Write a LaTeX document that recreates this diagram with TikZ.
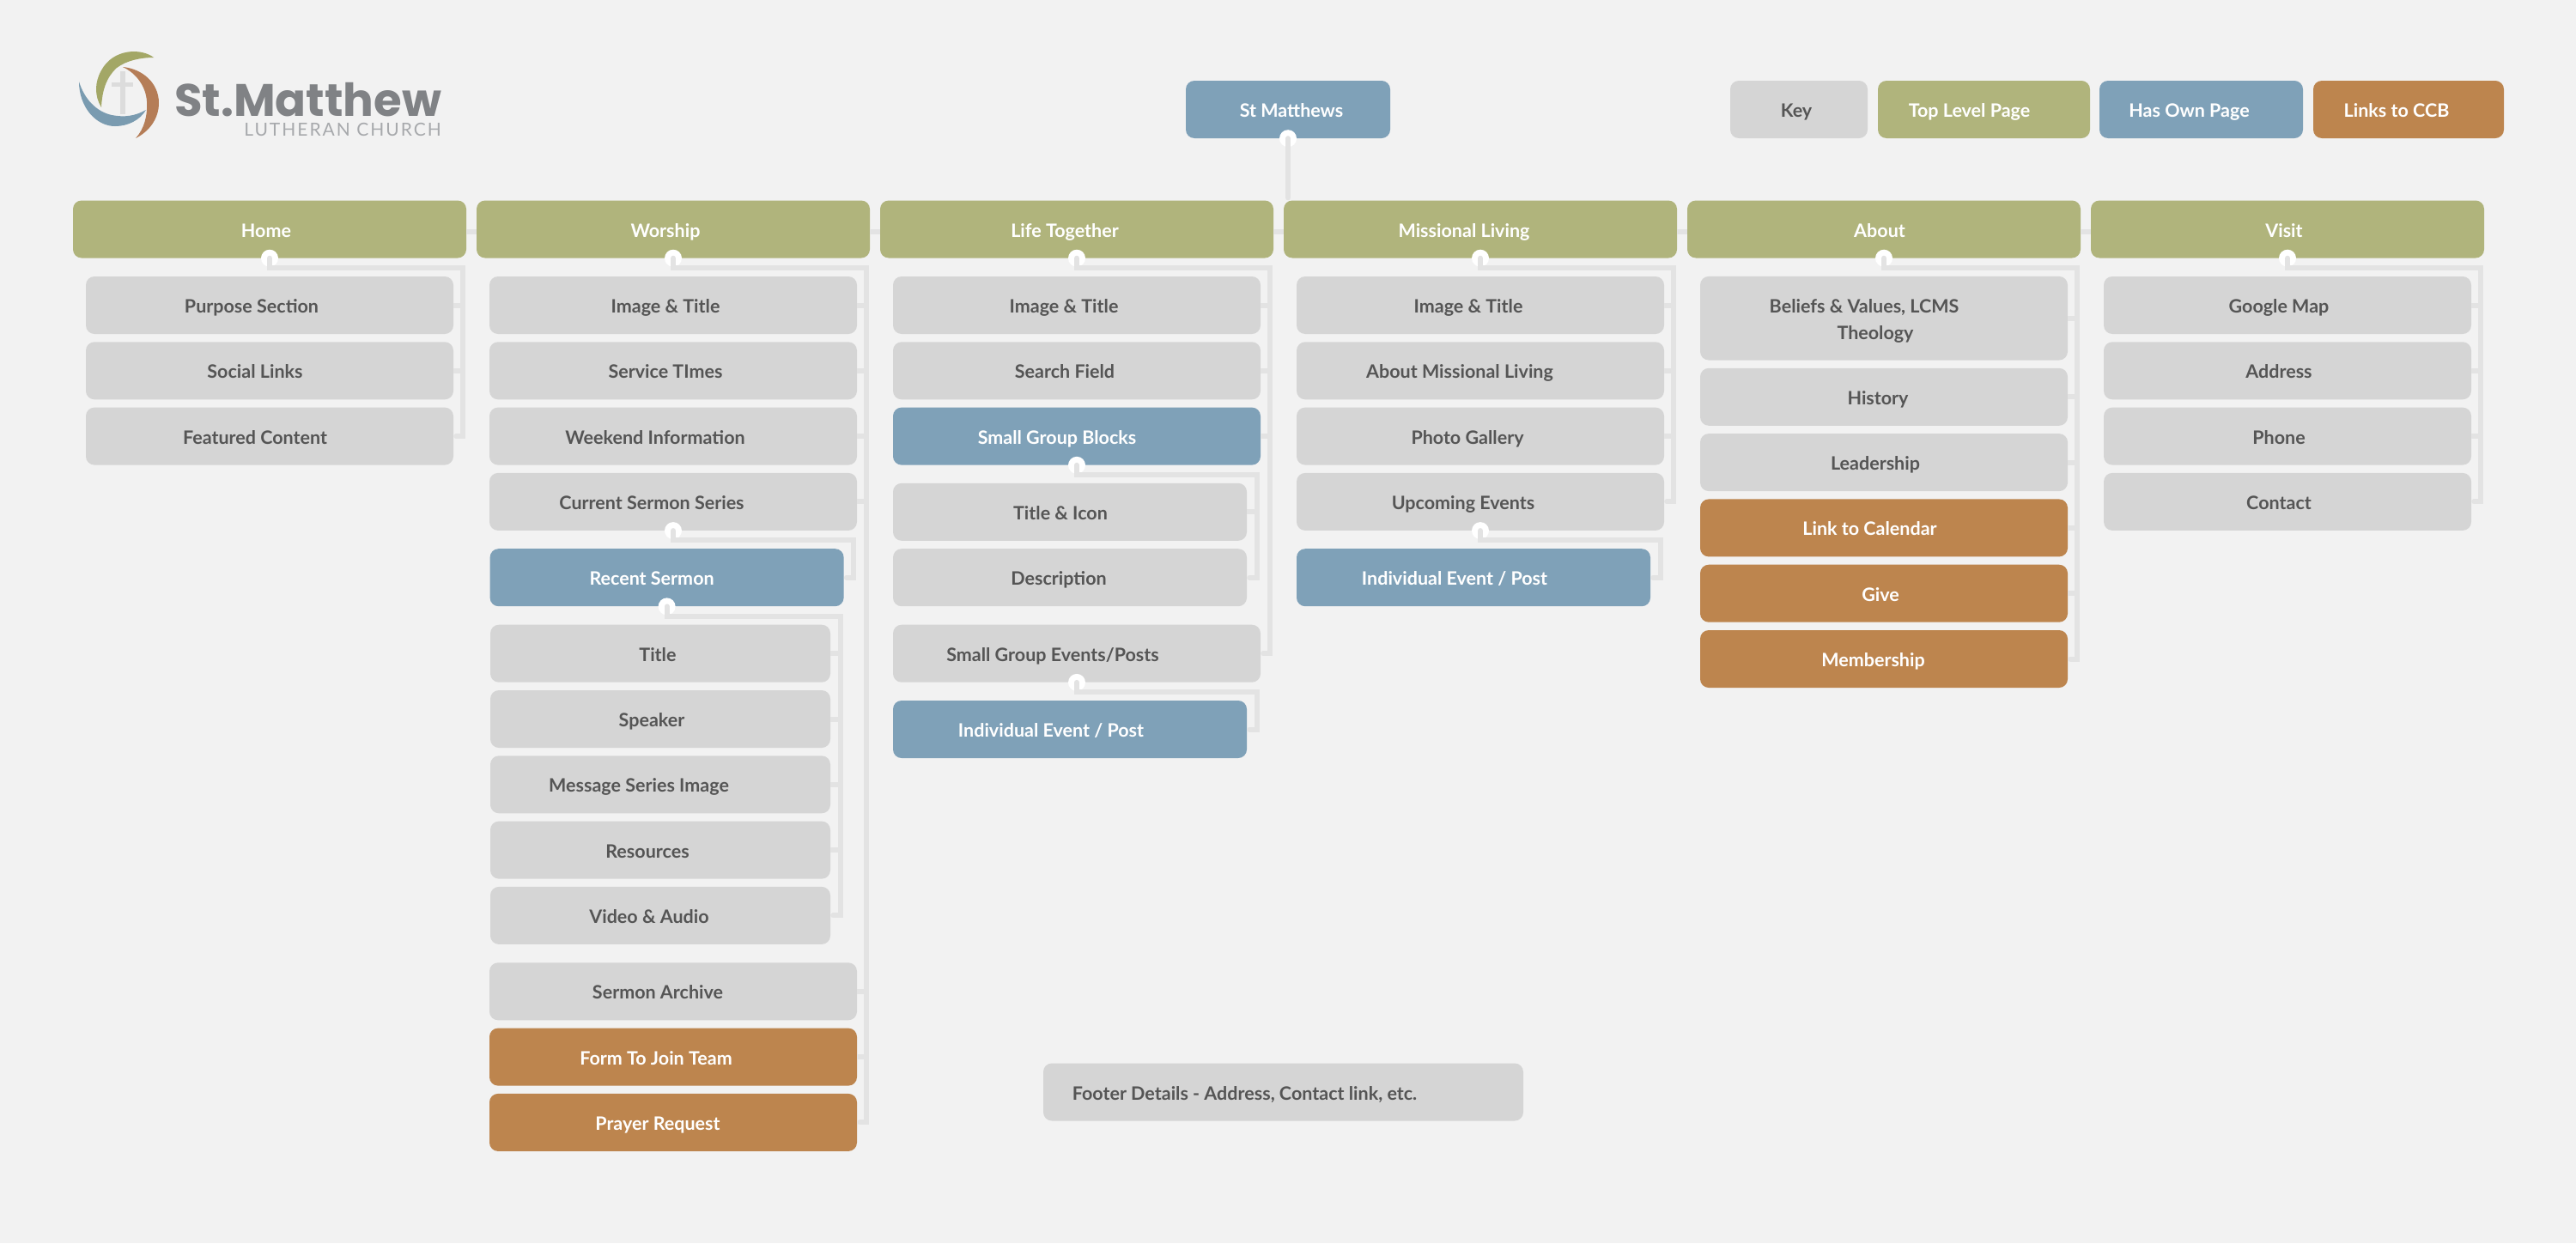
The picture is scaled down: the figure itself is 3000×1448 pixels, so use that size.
\documentclass[tikz,border=0pt]{standalone}
\usepackage{fontspec}
\setmainfont{Lato}
\newfontfamily\logofont{Poppins}
\definecolor{pagebg}{HTML}{F2F2F2}
\definecolor{linkc}{HTML}{E3E3E3}
\definecolor{greyc}{HTML}{D5D5D5}
\definecolor{greenc}{HTML}{B0B47C}
\definecolor{bluec}{HTML}{7FA1B8}
\definecolor{orangec}{HTML}{BD854E}
\definecolor{inkc}{HTML}{555555}
\definecolor{logogreen}{HTML}{A3A766}
\definecolor{logoorange}{HTML}{B57D57}
\definecolor{logoblue}{HTML}{7A9BB0}
\definecolor{logocross}{HTML}{DCDCDC}
\definecolor{logoname}{HTML}{808285}
\definecolor{logosub}{HTML}{A7A9AC}
\begin{document}
\begin{tikzpicture}[
    x=1pt,y=-1pt,
    box/.style={rectangle,rounded corners=10pt,inner sep=0pt,minimum height=67pt,text height=18pt,text depth=0pt,font=\fontsize{21.5}{25}\selectfont\bfseries},
    tl/.style={execute at end node={\hskip#1pt}},
    top/.style={box,fill=greenc,text=white,minimum width=458pt},
    sub/.style={box,fill=greyc,text=inkc,minimum width=428pt},
    subm/.style={sub,minimum width=412pt},
    subs/.style={sub,minimum width=396pt},
    own/.style={box,fill=bluec,text=white},
    ccb/.style={box,fill=orangec,text=white},
    dot/.style={circle,fill=white,inner sep=0pt,minimum size=20pt},
    link/.style={draw=linkc,line width=6pt},
    trunk/.style={link,line cap=round,shorten >=3pt}
    ]
    \fill[pagebg] (0,0) rectangle (3000,1448);
    % logo
    \fill[logocross] (140,83) rectangle (146,133);
    \fill[logocross] (130,96) rectangle (155,101);
    \fill[logogreen] (179,67) .. controls (165,56) and (132,56) .. (118,82) .. controls (110,96) and (110,112) .. (118,125) .. controls (119,105) and (124,90) .. (136,79) .. controls (148,70) and (165,67) .. (179,67) -- cycle;
    \fill[logoorange] (143,78) .. controls (165,80) and (185,96) .. (185,120) .. controls (185,138) and (174,153) .. (158,161) .. controls (168,150) and (172,135) .. (171,118) .. controls (170,102) and (160,86) .. (143,78) -- cycle;
    \fill[logoblue] (92,95) .. controls (92,125) and (112,147) .. (134,147) .. controls (149,147) and (163,140) .. (170,128) .. controls (158,135) and (145,137) .. (130,134) .. controls (112,130) and (98,115) .. (92,95) -- cycle;
    \node[anchor=base west,inner sep=0pt,text=logoname] (logoName) at (203,135) {\logofont\fontsize{53}{56}\selectfont\bfseries St.Matthew};
    \node[anchor=base east,inner sep=0pt,text=logosub] (logoSub) at (514,158) {\addfontfeature{LetterSpace=9.5}\fontsize{21}{24}\selectfont LUTHERAN CHURCH};
    % key
    \node[own,tl=-8,minimum width=238pt] (stm) at (1500,127.5) {St Matthews};
    \node[box,fill=greyc,text=inkc,tl=6,minimum width=160pt] (key) at (2095,127.5) {Key};
    \node[box,fill=greenc,text=white,tl=34,minimum width=247pt] (keyTop) at (2310.5,127.5) {Top Level Page};
    \node[own,tl=28,minimum width=237pt] (keyOwn) at (2563.5,127.5) {Has Own Page};
    \node[ccb,tl=28,minimum width=222pt] (keyCcb) at (2805,127.5) {Links to CCB};
    % top level
    \node[top,tl=8] (hom) at (314,267) {Home};
    \node[top,tl=18] (wor) at (784,267) {Worship};
    \node[top,tl=28] (lif) at (1254,267) {Life Together};
    \node[top,tl=38] (mis) at (1724,267) {Missional Living};
    \node[top,tl=10] (abo) at (2194,267) {About};
    \node[top,tl=8] (vis) at (2664,267) {Visit};
    % home
    \node[sub,tl=42] (homPurpose) at (314,355.5) {Purpose Section};
    \node[sub,tl=34] (homSocial) at (314,431.8) {Social Links};
    \node[sub,tl=34] (homFeatured) at (314,508.1) {Featured Content};
    % worship
    \node[sub,tl=18] (worImage) at (784,355.5) {Image \& Title};
    \node[sub,tl=18] (worTimes) at (784,431.8) {Service TImes};
    \node[sub,tl=42] (worWeekend) at (784,508.1) {Weekend Information};
    \node[sub,tl=50] (worSeries) at (784,584.4) {Current Sermon Series};
    \node[own,tl=35,minimum width=412pt] (worRecent) at (776.6,672.7) {Recent Sermon};
    \node[subs,tl=6] (recTitle) at (769,761.2) {Title};
    \node[subs,tl=20] (recSpeaker) at (769,837.5) {Speaker};
    \node[subs,tl=50] (recImage) at (769,913.8) {Message Series Image};
    \node[subs,tl=30] (recResources) at (769,990.1) {Resources};
    \node[subs,tl=26] (recVideo) at (769,1066.4) {Video \& Audio};
    \node[sub,tl=36] (worArchive) at (784,1154.8) {Sermon Archive};
    \node[ccb,tl=40,minimum width=428pt] (worForm) at (784,1231.1) {Form To Join Team};
    \node[ccb,tl=36,minimum width=428pt] (worPrayer) at (784,1307.4) {Prayer Request};
    % life together
    \node[sub,tl=30] (lifImage) at (1254,355.5) {Image \& Title};
    \node[sub,tl=28] (lifSearch) at (1254,431.8) {Search Field};
    \node[own,tl=46,minimum width=428pt] (lifBlocks) at (1254,508.1) {Small Group Blocks};
    \node[subm,tl=22] (blkTitle) at (1246,596.3) {Title \& Icon};
    \node[subm,tl=26] (blkDesc) at (1246,672.7) {Description};
    \node[sub,tl=56] (lifEvents) at (1254,761.2) {Small Group Events/Posts};
    \node[own,tl=44,minimum width=412pt] (lifPost) at (1246,849.5) {Individual Event / Post};
    % missional living
    \node[sub,tl=28] (misImage) at (1724,355.5) {Image \& Title};
    \node[sub,tl=48] (misAbout) at (1724,431.8) {About Missional Living};
    \node[sub,tl=30] (misPhoto) at (1724,508.1) {Photo Gallery};
    \node[sub,tl=40] (misEvents) at (1724,584.4) {Upcoming Events};
    \node[own,tl=44,minimum width=412pt] (misPost) at (1716,672.7) {Individual Event / Post};
    % about
    \node[sub,tl=20,minimum height=97.6pt,text depth=31.4pt] (aboBeliefs) at (2194,370.7) {\begin{tabular}[t]{@{}c@{}}Beliefs \& Values, LCMS\hspace*{26pt}\\[6pt]Theology\end{tabular}};
    \node[sub,tl=14] (aboHistory) at (2194,462.3) {History};
    \node[sub,tl=20] (aboLeaders) at (2194,538.6) {Leadership};
    \node[ccb,tl=33,minimum width=428pt] (aboCalendar) at (2194,614.9) {Link to Calendar};
    \node[ccb,tl=8,minimum width=428pt] (aboGive) at (2194,691.2) {Give};
    \node[ccb,tl=25,minimum width=428pt] (aboMember) at (2194,767.5) {Membership};
    % visit
    \node[sub,tl=20] (visMap) at (2664,355.5) {Google Map};
    \node[sub,tl=20] (visAddress) at (2664,431.8) {Address};
    \node[sub,tl=20] (visPhone) at (2664,508.1) {Phone};
    \node[sub,tl=20] (visContact) at (2664,584.4) {Contact};
    % footer
    \node[box,fill=greyc,text=inkc,tl=90,minimum width=559pt] (footer) at (1494.5,1272) {Footer Details - Address, Contact link, etc.};
    % dots
    \node[dot] (dStm) at (stm.south) {};
    \node[dot] (dHom) at (hom.south) {};
    \node[dot] (dWor) at (wor.south) {};
    \node[dot] (dLif) at (lif.south) {};
    \node[dot] (dMis) at (mis.south) {};
    \node[dot] (dAbo) at (abo.south) {};
    \node[dot] (dVis) at (vis.south) {};
    \node[dot] (dSeries) at (worSeries.south) {};
    \node[dot] (dRecent) at (worRecent.south) {};
    \node[dot] (dBlocks) at (lifBlocks.south) {};
    \node[dot] (dEvents) at (lifEvents.south) {};
    \node[dot] (dUpcoming) at (misEvents.south) {};
    % trunk corners
    \coordinate (crHom) at (539,312);
    \coordinate (crWor) at (1009,312);
    \coordinate (crLif) at (1479,312);
    \coordinate (crMis) at (1949,312);
    \coordinate (crAbo) at (2419,312);
    \coordinate (crVis) at (2889,312);
    \coordinate (crSeries) at (994,629);
    \coordinate (crRecent) at (978.6,717.7);
    \coordinate (crBlocks) at (1464,552.7);
    \coordinate (crEvents) at (1464,806);
    \coordinate (crUpcoming) at (1934,629);
    % links
    \draw[trunk] (dStm.center) -- (dStm.center |- mis.north);
    \draw[link] ([yshift=-3pt]hom.east) -- ([yshift=-3pt]wor.west);
    \draw[link] ([yshift=-3pt]wor.east) -- ([yshift=-3pt]lif.west);
    \draw[link] ([yshift=-3pt]lif.east) -- ([yshift=-3pt]mis.west);
    \draw[link] ([yshift=-3pt]mis.east) -- ([yshift=-3pt]abo.west);
    \draw[link] ([yshift=-3pt]abo.east) -- ([yshift=-3pt]vis.west);
    \draw[trunk] (dHom.center) |- (crHom) |- (homFeatured.east);
    \draw[link] (homPurpose.east) -- (homPurpose.east -| crHom);
    \draw[link] (homSocial.east) -- (homSocial.east -| crHom);
    \draw[trunk] (dWor.center) |- (crWor) |- (worPrayer.east);
    \draw[link] (worImage.east) -- (worImage.east -| crWor);
    \draw[link] (worTimes.east) -- (worTimes.east -| crWor);
    \draw[link] (worWeekend.east) -- (worWeekend.east -| crWor);
    \draw[link] (worSeries.east) -- (worSeries.east -| crWor);
    \draw[link] (worArchive.east) -- (worArchive.east -| crWor);
    \draw[link] (worForm.east) -- (worForm.east -| crWor);
    \draw[trunk] (dSeries.center) |- (crSeries) |- (worRecent.east);
    \draw[trunk] (dRecent.center) |- (crRecent) |- (recVideo.east);
    \draw[link] (recTitle.east) -- (recTitle.east -| crRecent);
    \draw[link] (recSpeaker.east) -- (recSpeaker.east -| crRecent);
    \draw[link] (recImage.east) -- (recImage.east -| crRecent);
    \draw[link] (recResources.east) -- (recResources.east -| crRecent);
    \draw[trunk] (dLif.center) |- (crLif) |- (lifEvents.east);
    \draw[link] (lifImage.east) -- (lifImage.east -| crLif);
    \draw[link] (lifSearch.east) -- (lifSearch.east -| crLif);
    \draw[link] (lifBlocks.east) -- (lifBlocks.east -| crLif);
    \draw[trunk] (dBlocks.center) |- (crBlocks) |- (blkDesc.east);
    \draw[link] (blkTitle.east) -- (blkTitle.east -| crBlocks);
    \draw[trunk] (dEvents.center) |- (crEvents) |- (lifPost.east);
    \draw[trunk] (dMis.center) |- (crMis) |- (misEvents.east);
    \draw[link] (misImage.east) -- (misImage.east -| crMis);
    \draw[link] (misAbout.east) -- (misAbout.east -| crMis);
    \draw[link] (misPhoto.east) -- (misPhoto.east -| crMis);
    \draw[trunk] (dUpcoming.center) |- (crUpcoming) |- (misPost.east);
    \draw[trunk] (dAbo.center) |- (crAbo) |- (aboMember.east);
    \draw[link] (aboBeliefs.east) -- (aboBeliefs.east -| crAbo);
    \draw[link] (aboHistory.east) -- (aboHistory.east -| crAbo);
    \draw[link] (aboLeaders.east) -- (aboLeaders.east -| crAbo);
    \draw[link] (aboCalendar.east) -- (aboCalendar.east -| crAbo);
    \draw[link] (aboGive.east) -- (aboGive.east -| crAbo);
    \draw[trunk] (dVis.center) |- (crVis) |- (visContact.east);
    \draw[link] (visMap.east) -- (visMap.east -| crVis);
    \draw[link] (visAddress.east) -- (visAddress.east -| crVis);
    \draw[link] (visPhone.east) -- (visPhone.east -| crVis);
  \end{tikzpicture}
\end{document}
